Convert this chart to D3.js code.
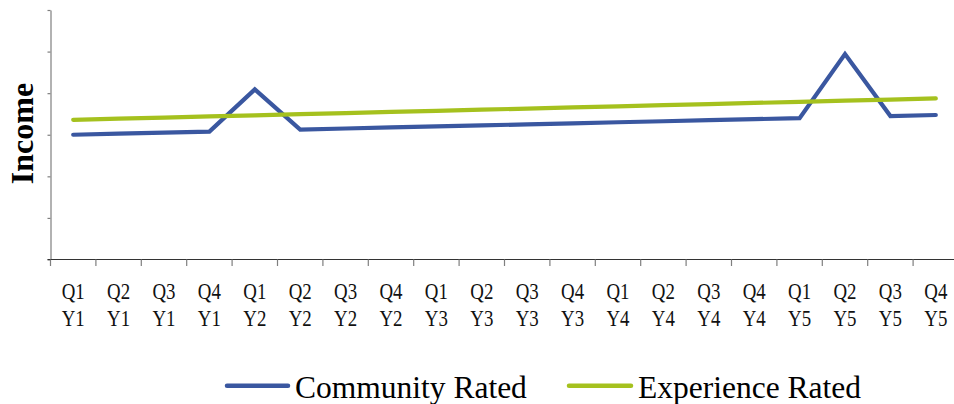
<!DOCTYPE html>
<html>
<head>
<meta charset="utf-8">
<script src="https://cdn.jsdelivr.net/npm/d3@7"></script>
<style>
  html, body { margin: 0; padding: 0; background: #fff; }
  svg { display: block; }
</style>
</head>
<body>
<svg id="chart" width="954" height="404"></svg>
<script>
const quarters = ["Q1","Q2","Q3","Q4","Q1","Q2","Q3","Q4","Q1","Q2","Q3","Q4","Q1","Q2","Q3","Q4","Q1","Q2","Q3","Q4"];
const years    = ["Y1","Y1","Y1","Y1","Y2","Y2","Y2","Y2","Y3","Y3","Y3","Y3","Y4","Y4","Y4","Y4","Y5","Y5","Y5","Y5"];
const categories = quarters.map((q, i) => q + " " + years[i]);
const communityRated  = [30, 30.25, 30.5, 30.75, 40.9, 31.25, 31.5, 31.75, 32, 32.25, 32.5, 32.75, 33, 33.25, 33.5, 33.75, 34, 49.4, 34.5, 34.75];
const experienceRated = [33.6, 33.87, 34.14, 34.41, 34.68, 34.95, 35.22, 35.49, 35.76, 36.03, 36.3, 36.57, 36.84, 37.11, 37.38, 37.65, 37.92, 38.19, 38.46, 38.73];
const yTicks = [0, 10, 20, 30, 40, 50, 60];
const seriesNames = ["Community Rated", "Experience Rated"];
const seriesColors = ["#3a57a0", "#a5c11e"];

const svg = d3.select("#chart");
const mLeft = 50.5, mTop = 10, mBottom = 259.5, mRight = 958.5;

const x = d3.scaleBand().domain(categories).range([mLeft, mRight]).paddingInner(0).paddingOuter(0);
const y = d3.scaleLinear().domain([0, 60]).range([mBottom, mTop]);

// Y axis (no labels)
const yAxis = d3.axisLeft(y).tickValues(yTicks).tickSize(3).tickSizeOuter(0).tickFormat("");
const gy = svg.append("g").attr("transform", `translate(${mLeft},0)`).call(yAxis);
gy.select(".domain").attr("stroke", "#7f7f7f").attr("stroke-width", 1.2);
gy.selectAll(".tick line").attr("stroke", "#7f7f7f").attr("stroke-width", 1.2);

// X axis with ticks at band boundaries
const gx = svg.append("g").attr("transform", `translate(0,${mBottom})`);
gx.append("line").attr("x1", mLeft - 3).attr("x2", 954).attr("y1", 0).attr("y2", 0)
  .attr("stroke", "#333").attr("stroke-width", 1.2);
const boundaries = categories.map(c => x(c));
gx.selectAll("line.tk").data(boundaries).enter().append("line").attr("class", "tk")
  .attr("x1", d => d).attr("x2", d => d).attr("y1", 0).attr("y2", 6.5)
  .attr("stroke", "#7f7f7f").attr("stroke-width", 1.2);

const labels = svg.append("g");
categories.forEach((c, i) => {
  const cx = x(c) + x.bandwidth() / 2;
  const g = labels.append("g").attr("transform", `translate(${cx},0) scale(0.84,1)`);
  g.append("text").attr("x", 0).attr("y", 299.5).attr("text-anchor", "middle")
    .attr("font-family", "Liberation Serif, Times New Roman, serif").attr("font-size", 22.5)
    .attr("fill", "#111").text(quarters[i]);
  g.append("text").attr("x", 0).attr("y", 326.5).attr("text-anchor", "middle")
    .attr("font-family", "Liberation Serif, Times New Roman, serif").attr("font-size", 22.5)
    .attr("fill", "#111").text(years[i]);
});

// Y title
svg.append("text")
  .attr("transform", `translate(33,133.5) rotate(-90)`)
  .attr("text-anchor", "middle")
  .attr("font-family", "Liberation Serif, Times New Roman, serif")
  .attr("font-weight", "bold").attr("font-size", 32).attr("fill", "#000")
  .text("Income");

// Lines
const line = d3.line()
  .x((d, i) => x(categories[i]) + x.bandwidth() / 2)
  .y(d => y(d));
const paths = [communityRated, experienceRated].map((s, k) =>
  svg.append("path").datum(s)
    .attr("d", line)
    .attr("fill", "none")
    .attr("stroke", seriesColors[k])
    .attr("stroke-width", 4.2)
    .attr("stroke-linecap", "round")
    .attr("stroke-linejoin", "miter")
);

// Legend
const legendItems = [
  { lx1: 227, lx2: 288, tx: 295 },
  { lx1: 569, lx2: 631, tx: 638 }
];
legendItems.forEach((it, k) => {
  svg.append("line").attr("x1", it.lx1).attr("x2", it.lx2).attr("y1", 385.7).attr("y2", 385.7)
    .attr("stroke", seriesColors[k]).attr("stroke-width", 4.5).attr("stroke-linecap", "round");
  svg.append("text").attr("x", it.tx).attr("y", 398)
    .attr("font-family", "Liberation Serif, Times New Roman, serif").attr("font-size", 31.5)
    .attr("fill", "#000").text(seriesNames[k]);
});
</script>
</body>
</html>
